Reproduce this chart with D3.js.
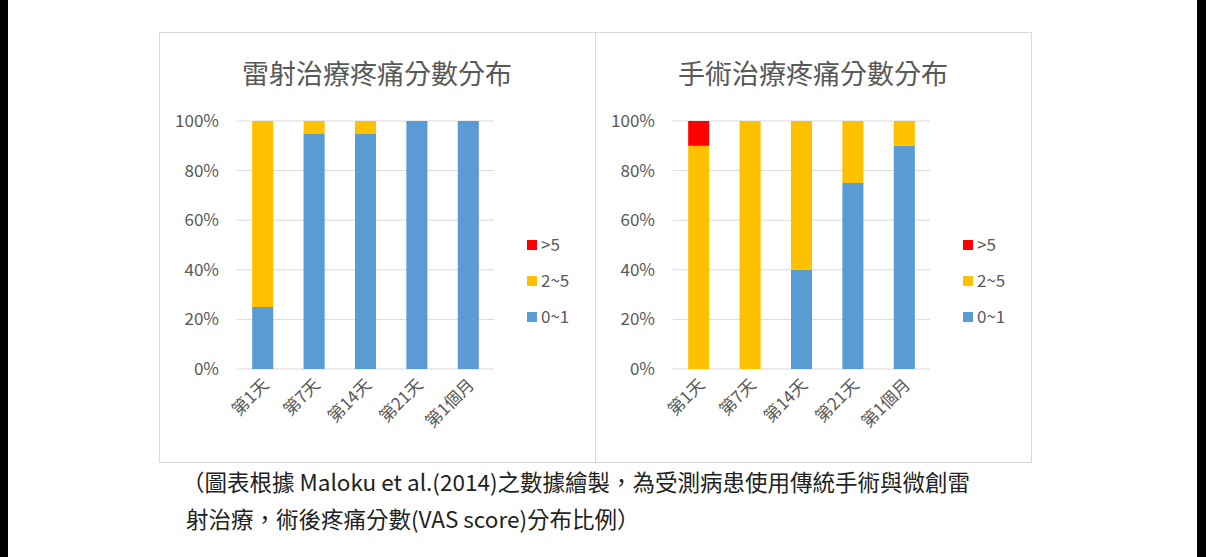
<!DOCTYPE html>
<html><head><meta charset="utf-8">
<script src="https://cdn.jsdelivr.net/npm/d3@7"></script>
<style>
body{margin:0;background:#fff;font-family:"Noto Sans CJK TC","Noto Sans",sans-serif}
</style></head><body>
<svg id="c" width="1206" height="557"></svg>
<script>
const categories = ['第1天', '第7天', '第14天', '第21天', '第1個月']
const seriesNames = ['0~1', '2~5', '>5']
const colors = ['#5b9bd5', '#ffc000', '#ff0000']
const laserTitle = '雷射治療疼痛分數分布'
const laserLow = [25, 95, 95, 100, 100]
const laserMid = [75, 5, 5, 0, 0]
const laserHigh = [0, 0, 0, 0, 0]
const surgTitle = '手術治療疼痛分數分布'
const surgLow = [0, 0, 40, 75, 90]
const surgMid = [90, 100, 60, 25, 10]
const surgHigh = [10, 0, 0, 0, 0]
const yTicks = [0, 20, 40, 60, 80, 100]

const svg = d3.select('#c')
svg.append('rect').attr('x', 0).attr('y', 0).attr('width', 8).attr('height', 557).attr('fill', '#000')
svg.append('rect').attr('x', 1197).attr('y', 0).attr('width', 9).attr('height', 557).attr('fill', '#000')

function drawChart(ox, title, series) {
	const g = svg.append('g').attr('transform', `translate(${ox},0)`)
	g.append('rect').attr('x', 0.5).attr('y', 32.5).attr('width', 436).attr('height', 430)
		.attr('fill', 'none').attr('stroke', '#d9d9d9')
	g.append('text').attr('x', 218).attr('y', 84).attr('text-anchor', 'middle')
		.attr('font-size', 27).attr('fill', '#595959').text(title)

	const x = d3.scaleBand().domain(categories).range([78, 335]).paddingInner(0.59).paddingOuter(0.295)
	const y = d3.scaleLinear().domain([0, 100]).range([369, 121])

	g.selectAll('.grid').data(yTicks).enter().append('line')
		.attr('x1', 78).attr('x2', 335).attr('y1', d => y(d)).attr('y2', d => y(d))
		.attr('stroke', '#d9d9d9')
	g.selectAll('.yl').data(yTicks).enter().append('text')
		.attr('x', 60).attr('y', d => y(d) + 6).attr('text-anchor', 'end')
		.attr('font-size', 17).attr('fill', '#595959').text(d => d + '%')

	const rows = categories.map((c, i) => ({ cat: c, s0: series[0][i], s1: series[1][i], s2: series[2][i] }))
	const stacked = d3.stack().keys(['s0', 's1', 's2'])(rows)
	stacked.forEach((layer, k) => {
		g.selectAll('.b' + k).data(layer).enter().append('rect')
			.attr('x', d => x(d.data.cat)).attr('width', x.bandwidth())
			.attr('y', d => y(d[1])).attr('height', d => y(d[0]) - y(d[1]))
			.attr('fill', colors[k])
	})

	g.selectAll('.xl').data(categories).enter().append('text')
		.attr('transform', d => `translate(${x(d) + x.bandwidth() / 2 + 7},${386}) rotate(-45)`)
		.attr('text-anchor', 'end').attr('font-size', 17).attr('fill', '#595959').text(d => d)

	const legendOrder = [2, 1, 0]
	legendOrder.forEach((k, i) => {
		const ly = 245 + i * 36
		g.append('rect').attr('x', 368).attr('y', ly - 5).attr('width', 10).attr('height', 10).attr('fill', colors[k])
		g.append('text').attr('x', 382).attr('y', ly + 6).attr('font-size', 17).attr('fill', '#595959').text(seriesNames[k])
	})
}

drawChart(159, laserTitle, [laserLow, laserMid, laserHigh])
drawChart(595, surgTitle, [surgLow, surgMid, surgHigh])

svg.append('text').attr('x', 182).attr('y', 491).attr('font-size', 22.5).attr('fill', '#222')
	.text('（圖表根據 Maloku et al.(2014)之數據繪製，為受測病患使用傳統手術與微創雷')
svg.append('text').attr('x', 186).attr('y', 528).attr('font-size', 22.5).attr('fill', '#222')
	.text('射治療，術後疼痛分數(VAS score)分布比例）')
</script></body></html>
